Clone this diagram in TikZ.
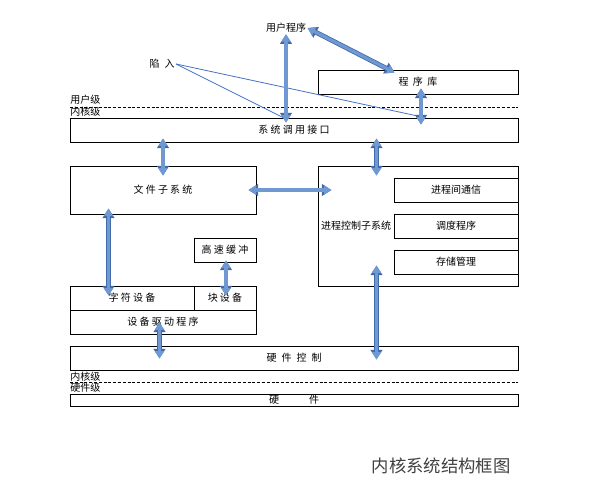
\documentclass[tikz,border=0pt]{standalone}
\usepackage{fontspec}
\setmainfont{Noto Sans CJK SC}
\usetikzlibrary{arrows.meta,calc}
\definecolor{arrowfill}{RGB}{112,152,210}
\definecolor{arrowedge}{RGB}{66,106,168}
\definecolor{traplink}{RGB}{68,114,196}

\begin{document}
\begin{tikzpicture}[x=0.75pt,y=-0.75pt,
  box/.style={draw,line width=0.75pt,inner sep=0pt,font=\fontsize{7.5}{9}\selectfont},
  fat/.style={line width=2.4pt,arrowfill,{Triangle[width=6.8pt,length=5.6pt]}-{Triangle[width=6.8pt,length=5.6pt]},
    preaction={draw=arrowedge,line width=3.6pt,{Triangle[width=8.6pt,length=7.2pt]}-{Triangle[width=8.6pt,length=7.2pt]}}},
  lvl/.style={anchor=west,inner sep=0pt,font=\fontsize{7.5}{9}\selectfont}]
  \useasboundingbox (0,0) rectangle (606,494);

  % user level
  \node[font=\fontsize{7.5}{9}\selectfont,inner sep=1pt] (up) at (286,28) {用户程序};
  \node[font=\fontsize{7.5}{9}\selectfont,inner sep=1pt] (trap) at (162,64) {陷\hspace{0.5em}入};
  \node[box,minimum width=150pt,minimum height=18pt] (lib) at (418,82) {程\hspace{0.45em}序\hspace{0.45em}库};

  % level separators
  \node[lvl] (ulvl) at (70,100) {用户级};
  \node[lvl] (klvl) at (70,112) {内核级};
  \draw[line width=0.6pt,dash pattern=on 2.2pt off 1.4pt] (70,107) -- (518,107);
  \node[lvl] (klvl2) at (70,377) {内核级};
  \node[lvl] (hlvl) at (70,388) {硬件级};
  \draw[line width=0.6pt,dash pattern=on 2.2pt off 1.4pt] (70,382) -- (518,382);

  % kernel
  \node[box,minimum width=336pt,minimum height=18pt] (sci) at (294,130) {系 统 调 用 接 口};
  \node[box,minimum width=139.5pt,minimum height=36pt] (fs) at (163,190) {文 件 子 系 统};
  \node[box,minimum width=150pt,minimum height=90pt] (pcs) at (418,226) {};
  \node[font=\fontsize{7.5}{9}\selectfont,inner sep=0pt] (pcsl) at (356,226) {进程控制子系统};
  \foreach \name/\y/\txt in {ipc/190/进程间通信,sched/226/调度程序,mem/262/存储管理} {
    \node[box,minimum width=93pt,minimum height=18pt] (\name) at (456,\y) {\txt};
  }
  \node[box,minimum width=46.5pt,minimum height=18pt] (cache) at (225,250) {高 速 缓 冲};
  \node[box,minimum width=93pt,minimum height=18pt] (chr) at (132,298) {字 符 设 备};
  \node[box,minimum width=46.5pt,minimum height=18pt] (blk) at (225,298) {块 设 备};
  \node[box,minimum width=139.5pt,minimum height=18pt] (drv) at (163,322) {设 备 驱 动 程 序};
  \node[box,minimum width=336pt,minimum height=18pt] (hwc) at (294,358)
    {硬\hspace{0.5em}件\hspace{0.5em}控\hspace{0.5em}制};

  % hardware
  \node[box,minimum width=336pt,minimum height=9pt] (hw) at (294,400) {硬\hspace{3em}件};

  % trap links
  \draw[traplink,line width=0.6pt] (trap.east) -- ($(up.south |- sci.north)+(-3,0)$);
  \draw[traplink,line width=0.6pt] (trap.east) -- ($(lib.south |- sci.north)+(2,-1)$);

  % data paths
  \draw[fat] (up.south) -- ($(up.south |- sci.north)+(0,5)$);
  \draw[fat] (up.east) -- ($(lib.north west)+(77,3)$);
  \draw[fat] ($(lib.south)+(3,-6)$) -- ($(lib.south |- sci.north)+(3,7)$);
  \draw[fat] ($(sci.south -| fs.north)+(0,-4)$) -- ($(fs.north)+(0,10)$);
  \draw[fat] ($(pcs.north west |- sci.south)+(59,-4)$) -- ($(pcs.north west)+(59,10)$);
  \draw[fat] ($(fs.east)+(-8,0)$) -- ($(fs.east -| pcs.west)+(14,0)$);
  \draw[fat] ($(fs.south west)+(39,-6)$) -- ($(chr.north west)+(39,10)$);
  \draw[fat] ($(cache.south)+(1,-2)$) -- ($(blk.north)+(1,10)$);
  \draw[fat] ($(drv.north west)+(90,13)$) -- ($(hwc.north west)+(90,13)$);
  \draw[fat] ($(pcs.north west)+(59,100)$) -- ($(hwc.north west)+(307,14)$);

  % caption
  \node[font=\fontsize{13}{15}\selectfont,text=black!75] (title) at (441,466) {内核系统结构框图};
\end{tikzpicture}
\end{document}
